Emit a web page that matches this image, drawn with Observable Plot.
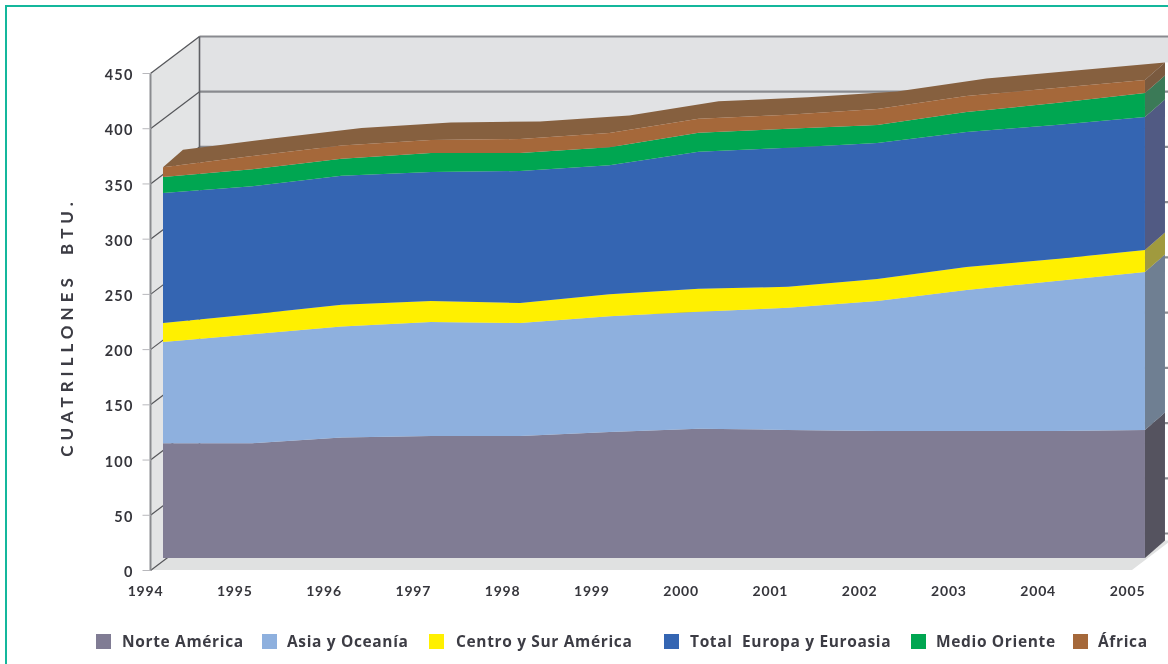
<!DOCTYPE html>
<html lang="es">
<head>
<meta charset="utf-8">
<script src="https://cdn.jsdelivr.net/npm/d3@7"></script>
<script src="https://cdn.jsdelivr.net/npm/@observablehq/plot@0.6"></script>
<style>
  html, body { margin: 0; padding: 0; background: #fff; overflow: hidden; width: 1168px; height: 664px; }
  #page { position: relative; width: 1168px; height: 664px; overflow: hidden; font-family: Lato, "Open Sans", sans-serif; }
  #frame { position: absolute; left: 5px; top: 5px; width: 1300px; height: 800px; border: 2.5px solid #14b79c; box-sizing: border-box; }
  #chart { position: absolute; left: 0; top: 0; filter: blur(0.55px); }
  #chart svg { display: block; overflow: visible; }
  #legend { position: absolute; left: 0; top: 626px; width: 1168px; height: 38px; filter: blur(0.55px); }
  .sw { position: absolute; top: 8px; width: 15px; height: 15px; }
  .lb { position: absolute; top: 6px; font-family: "Open Sans", sans-serif; font-size: 15.5px; line-height: 18px; font-weight: 700; color: #3c3c44; white-space: pre; letter-spacing: 0.65px; }
</style>
</head>
<body>
<div id="page">
  <div id="frame"></div>
  <div id="chart"></div>
  <div id="legend"></div>
</div>
<script>
const years = [1994, 1995, 1996, 1997, 1998, 1999, 2000, 2001, 2002, 2003, 2004, 2005];
const yTicks = [0, 50, 100, 150, 200, 250, 300, 350, 400, 450];

const norteAmerica = [104, 104, 109, 110.5, 110.5, 114, 117, 116, 115, 115, 115, 116];
const asiaOceania  = [91.5, 98.7, 100.5, 103.2, 102.3, 105, 106, 110.5, 117.7, 127.7, 135.8, 143];
const centroSur    = [17.2, 18.1, 19.9, 19, 18.1, 19.9, 20.8, 19, 19.9, 20.8, 19.9, 19.9];
const europaEuroasia = [117.7, 115.9, 116.8, 116.8, 119.5, 116.8, 124, 125.9, 123.1, 122.2, 121.3, 120.4];
const medioOriente = [14.5, 15.4, 15.4, 17.2, 16.3, 16.3, 17.2, 17.2, 16.3, 18.1, 19.9, 21.7];
const africa       = [9, 11.8, 11.8, 11.8, 12.7, 12.7, 12.7, 12.7, 14.5, 14.5, 13.6, 11.8];

const seriesNames  = ["Norte América", "Asia y Oceanía", "Centro y Sur América", "Total  Europa y Euroasia", "Medio Oriente", "África"];
const seriesValues = [norteAmerica, asiaOceania, centroSur, europaEuroasia, medioOriente, africa];
const frontColors  = ["#807c94", "#8eb0de", "#fff000", "#3465b2", "#00a651", "#a5683a"];
const sideColors   = ["#55535f", "#6f7f92", "#a09a3e", "#515a83", "#3b7a57", "#7a5a3f"];
const topColor = "#86603f";
const legendSwatchX = [96, 262, 429, 664, 911, 1073];
const legendLabelX  = [122, 287, 456, 690, 936, 1098];

// scale and 3-D depth set-up (pixels)
const yearPx = 89.27, unitPx = 497 / 450;
const xRange = [150, 150 + yearPx * 11], yRange = [570, 73];
const wallDepth = {dx: 49, dy: 37};
const frontDepth = {dx: 13, dy: 12};
const backDepth = {dx: 33, dy: 29.5};
const px = (yr, d) => yr + d.dx / yearPx;
const py = (v, d) => v + d.dy / unitPx;

// stacked bands
const bands = [];
seriesNames.forEach((name, s) => {
  years.forEach((yr, i) => {
    const below = d3.sum(seriesValues.slice(0, s), a => a[i]);
    bands.push({series: name, s, year: yr, lo: below, hi: below + seriesValues[s][i]});
  });
});
const last = bands.filter(d => d.year === years[years.length - 1]);
const topRows = bands.filter(d => d.s === seriesNames.length - 1);
const stackTop = topRows[topRows.length - 1].hi;

const x0 = years[0], x1 = years[years.length - 1], yMax = yTicks[yTicks.length - 1];
const none = {dx: 0, dy: 0};

// a flat quad given by two edges: each row holds a lower/upper point
const quad = (a1, a2, b1, b2, fill) => Plot.area(
  [{x1: a1[0], y1: a1[1], x2: a2[0], y2: a2[1]}, {x1: b1[0], y1: b1[1], x2: b2[0], y2: b2[1]}],
  {x1: "x1", y1: "y1", x2: "x2", y2: "y2", fill}
);
const P = (yr, v, d) => [px(yr, d), py(v, d)];

const wall = "#e1e2e4", grid = "#808185";

const plot = Plot.plot({
  width: 1168,
  height: 626,
  marginLeft: 150,
  marginRight: 36,
  marginTop: 73,
  marginBottom: 56,
  style: {background: "transparent", fontFamily: "Lato, 'Open Sans', sans-serif"},
  x: {type: "linear", domain: [x0, x1], range: xRange},
  y: {type: "linear", domain: [0, yMax], range: yRange},
  marks: [
    // back wall, side wall, floor
    quad(P(x0, 0, wallDepth), P(x0, yMax, wallDepth), P(x1, 0, wallDepth), P(x1, yMax, wallDepth), wall),
    quad(P(x0, 0, none), P(x0, yMax, none), P(x0, 0, wallDepth), P(x0, yMax, wallDepth), "#e3e4e5"),
    quad(P(x0, 0, none), P(x0, 0, wallDepth), P(x1, 0, none), P(x1, 0, wallDepth), "#e0e1e1"),
    // the strip of wall to the right of the stack shows white
    quad(P(x1, 0, backDepth), P(x1, stackTop, backDepth), P(x1, 0, {dx: 80, dy: 29.5}), P(x1, stackTop, {dx: 80, dy: 29.5}), "#fff"),
    // grid lines on both walls
    Plot.link(yTicks, {x1: px(x0, wallDepth), x2: px(x1, wallDepth), y1: d => py(d, wallDepth), y2: d => py(d, wallDepth), stroke: grid, strokeWidth: 2.2, strokeOpacity: 0.9}),
    Plot.link(yTicks, {x1: x0, x2: px(x0, wallDepth), y1: d => d, y2: d => py(d, wallDepth), stroke: "#55565a", strokeWidth: 1.2}),
    Plot.link([0], {x1: px(x0, wallDepth), x2: px(x0, wallDepth), y1: py(0, wallDepth), y2: py(yMax, wallDepth), stroke: "#5f6064", strokeWidth: 1.6}),
    Plot.link([0], {x1: x0, x2: x0, y1: 0, y2: yMax, stroke: "#8a8b8f", strokeWidth: 2}),
    // top surface
    Plot.area(topRows, {
      x1: d => px(d.year, frontDepth), y1: d => py(d.hi, frontDepth),
      x2: d => px(d.year, backDepth), y2: d => py(d.hi, backDepth),
      fill: topColor
    }),
    // side faces at the last year
    ...last.map(d => quad(P(d.year, d.lo, frontDepth), P(d.year, d.hi, frontDepth), P(d.year, d.lo, backDepth), P(d.year, d.hi, backDepth), sideColors[d.s])),
    // front faces
    Plot.area(bands, {
      x1: d => px(d.year, frontDepth), x2: d => px(d.year, frontDepth),
      y1: d => py(d.lo, frontDepth), y2: d => py(d.hi, frontDepth),
      z: "series", fill: d => frontColors[d.s]
    }),
    // axes
    Plot.link(yTicks, {x1: x0 - 8 / yearPx, x2: x0, y1: d => d, y2: d => d, stroke: "#b8b8bc"}),
    Plot.axisY(yTicks, {anchor: "left", ticks: yTicks, tickSize: 0, tickPadding: 17, dy: 2, label: null, fontSize: 14.5, fontWeight: 700, fill: "#36363c"}),
    Plot.axisX(years, {anchor: "bottom", ticks: years, tickFormat: d3.format("d"), tickSize: 0, tickPadding: 16, dx: -5, label: null, fontSize: 14, fontWeight: 700, fill: "#36363c"}),
    Plot.text(["CUATRILLONES  BTU."], {
      frameAnchor: "left", textAnchor: "middle", dx: -83, dy: 5, rotate: -90, fontSize: 17, fontWeight: 700, fill: "#3c3c44"
    })
  ]
});
document.getElementById("chart").appendChild(plot);

// letter spacing of the wide-set labels
d3.select(plot).selectAll("text").each(function () {
  const t = this.textContent;
  if (t.startsWith("CUATRILLONES")) this.style.letterSpacing = "5px";
  else if (/^\d+$/.test(t)) this.style.letterSpacing = t.length === 4 ? "0.8px" : "1.2px";
});

const legend = d3.select("#legend");
seriesNames.forEach((name, i) => {
  legend.append("div").attr("class", "sw").style("left", legendSwatchX[i] + "px").style("background", frontColors[i]);
  legend.append("div").attr("class", "lb").style("left", legendLabelX[i] + "px").text(name);
});
</script>
</body>
</html>
